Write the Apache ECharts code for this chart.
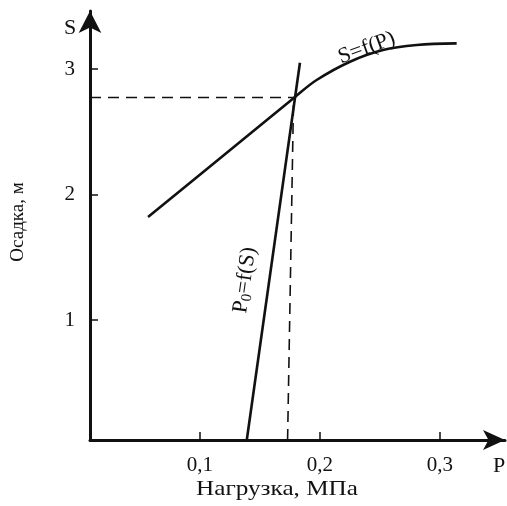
<!DOCTYPE html>
<html>
<head>
<meta charset="utf-8">
<script src="https://cdn.jsdelivr.net/npm/echarts@6/dist/echarts.min.js"></script>
<style>
html,body{margin:0;padding:0;background:#fff;}
#main{width:507px;height:506px;}
</style>
</head>
<body>
<div id="main"></div>
<script>
// S = f(P) curve (load P, settlement S)
var curveP = [0.0567, 0.118, 0.1792, 0.1972, 0.225, 0.2525, 0.2806, 0.3139];
var curveS = [1.822, 2.30, 2.779, 2.914, 3.06, 3.153, 3.193, 3.206];
// P0 = f(S) line
var lineP = [0.139, 0.1833];
var lineS = [0.045, 3.052];
// dashed guides through the intersection point
var crossP = 0.1792, crossS = 2.775;
var guideBottomP = 0.173;
var xTicks = [0.1, 0.2, 0.3];
var yTicks = [1, 2, 3];

var xMin = 0.00833, xMax = 0.3542;
var yMin = 0.045, yMax = 3.464;
var serif = '"Liberation Serif", "Times New Roman", serif';
var ink = '#111';

function pairs(a, b){
	var out = [];
	for(var i=0;i<a.length;i++){ out.push([a[i], b[i]]); }
	return out;
}
function comma(v){ return String(v).replace('.', ','); }

var myChart = echarts.init(document.getElementById('main'));
var option = {
	animation: false,
	grid: { left: 90, right: 2, top: 11, bottom: 66 },
	xAxis: {
		type: 'value', min: xMin, max: xMax,
		splitLine: { show: false },
		axisLine: { onZero: false, symbol: ['none', 'arrow'], symbolSize: [15, 22],
			lineStyle: { color: ink, width: 3 } },
		axisTick: { inside: true, length: 8, customValues: xTicks, lineStyle: { color: ink, width: 1.5 } },
		axisLabel: { customValues: xTicks, margin: 15, color: ink, fontFamily: serif, fontSize: 21,
			formatter: function(v){ return comma(v); } }
	},
	yAxis: {
		type: 'value', min: yMin, max: yMax,
		splitLine: { show: false },
		axisLine: { onZero: false, symbol: ['none', 'arrow'], symbolSize: [17, 22],
			lineStyle: { color: ink, width: 3 } },
		axisTick: { inside: true, length: 8, customValues: yTicks, lineStyle: { color: ink, width: 1.5 } },
		axisLabel: { customValues: yTicks, margin: 15, color: ink, fontFamily: serif, fontSize: 21 }
	},
	series: [{
		type: 'line', data: pairs(curveP, curveS), smooth: 0.35, showSymbol: false,
		lineStyle: { color: ink, width: 2.6 }
	}, {
		type: 'line', data: pairs(lineP, lineS), showSymbol: false,
		lineStyle: { color: ink, width: 2.6 }
	}, {
		type: 'line', data: [[xMin, crossS], [crossP, crossS]], showSymbol: false,
		lineStyle: { color: ink, width: 1.6, type: [11, 7] }
	}, {
		type: 'line', data: [[guideBottomP, yMin], [crossP - 0.0012, crossS]], showSymbol: false,
		lineStyle: { color: ink, width: 1.6, type: [11, 7] }
	}]
};
myChart.setOption(option);

// text annotations placed from data coordinates
var labS = myChart.convertToPixel({ gridIndex: 0 }, [0.239, 3.17]);
var labP0 = myChart.convertToPixel({ gridIndex: 0 }, [0.1375, 1.32]);
myChart.setOption({
	graphic: [{
		type: 'text', x: 70, y: 28,
		style: { text: 'S', font: '22px ' + serif, fill: ink, align: 'center', verticalAlign: 'middle' }
	}, {
		type: 'text', x: 499, y: 466,
		style: { text: 'P', font: '22px ' + serif, fill: ink, align: 'center', verticalAlign: 'middle' }
	}, {
		type: 'text', x: 18, y: 222, rotation: Math.PI / 2,
		style: { text: 'Осадка, м', font: '19px ' + serif, fill: ink, align: 'center', verticalAlign: 'middle' }
	}, {
		type: 'text', x: 277, y: 489, scaleX: 1.2,
		style: { text: 'Нагрузка, МПа', font: '21px ' + serif, fill: ink, align: 'center', verticalAlign: 'middle' }
	}, {
		type: 'text', x: labS[0], y: labS[1], rotation: 20 * Math.PI / 180,
		style: { text: 'S=f(P)', font: '22px ' + serif, fill: ink, align: 'center', verticalAlign: 'middle' }
	}, {
		type: 'text', x: labP0[0], y: labP0[1], rotation: 82 * Math.PI / 180,
		style: {
			text: '{p|P}{s|0}{p|=f(S)}', fill: ink, align: 'center', verticalAlign: 'middle',
			rich: {
				p: { fontFamily: serif, fontSize: 22, fill: ink },
				s: { fontFamily: serif, fontSize: 15, fill: ink, padding: [9, 0, 0, 0] }
			}
		}
	}]
});
</script>
</body>
</html>
